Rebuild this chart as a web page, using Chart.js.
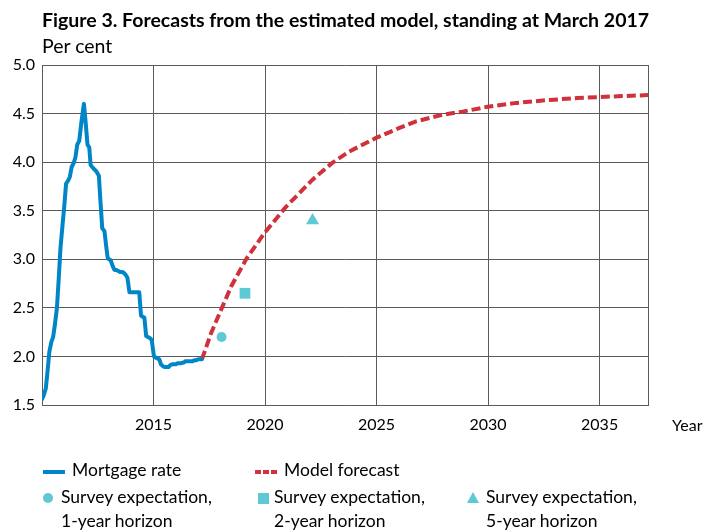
<!DOCTYPE html>
<html><head><meta charset="utf-8">
<script src="https://cdn.jsdelivr.net/npm/chart.js@4"></script>
<style>
body{margin:0;background:#fff;}
#wrap{position:relative;width:704px;height:531px;overflow:hidden;font-family:Lato, sans-serif;color:#000;background:#fff;}
#c{position:absolute;left:0;top:0;}
.t{position:absolute;white-space:nowrap;line-height:24px;font-size:17.5px;}
.mk{position:absolute;}
</style></head><body>
<div id="wrap">
<canvas id="c" width="704" height="531"></canvas>
<div class="t" style="left:42px;top:8px;font-size:19.5px;font-weight:bold;">Figure 3. Forecasts from the estimated model, standing at March 2017</div>
<div class="t" style="left:42px;top:34px;font-size:19.5px;">Per cent</div>
<div class="t" style="left:672px;top:413px;font-size:16px;">Year</div>

<div class="mk" style="left:43px;top:470px;width:22px;height:4px;background:#0086C8;"></div>
<div class="t" style="left:72px;top:458px;">Mortgage rate</div>
<div class="mk" style="left:255px;top:470px;width:6px;height:4px;background:#D0313A;"></div>
<div class="mk" style="left:263px;top:470px;width:6px;height:4px;background:#D0313A;"></div>
<div class="mk" style="left:271px;top:470px;width:6px;height:4px;background:#D0313A;"></div>
<div class="t" style="left:284px;top:458px;">Model forecast</div>

<div class="mk" style="left:43px;top:493px;width:10px;height:10px;border-radius:50%;background:#5EC8D5;"></div>
<div class="t" style="left:61px;top:485px;">Survey expectation,<br>1-year horizon</div>
<div class="mk" style="left:258px;top:493px;width:11px;height:11px;background:#5EC8D5;"></div>
<div class="t" style="left:274px;top:485px;">Survey expectation,<br>2-year horizon</div>
<div class="mk" style="left:467px;top:492px;width:0;height:0;border-left:6.5px solid transparent;border-right:6.5px solid transparent;border-bottom:11px solid #5EC8D5;"></div>
<div class="t" style="left:486px;top:485px;">Survey expectation,<br>5-year horizon</div>
</div>
<script>
// Mortgage rate (per cent), x = year
const mortgageYears = [2010.00,2010.08,2010.17,2010.25,2010.33,2010.42,2010.50,2010.58,2010.67,2010.75,2010.83,2010.92,
  2011.00,2011.08,2011.17,2011.25,2011.33,2011.42,2011.50,2011.58,2011.67,2011.75,2011.83,2011.88,2011.96,
  2012.04,2012.12,2012.18,2012.25,2012.33,2012.42,2012.50,2012.55,2012.62,2012.70,2012.80,2012.87,2012.94,
  2013.00,2013.08,2013.17,2013.25,2013.33,2013.42,2013.50,2013.58,2013.67,2013.75,2013.83,2013.92,
  2014.00,2014.08,2014.17,2014.25,2014.36,2014.44,2014.50,2014.59,2014.67,2014.75,2014.83,2014.92,
  2015.02,2015.08,2015.17,2015.26,2015.33,2015.42,2015.50,2015.58,2015.67,2015.75,2015.86,2015.92,
  2016.00,2016.08,2016.16,2016.25,2016.38,2016.42,2016.50,2016.58,2016.67,2016.75,2016.83,2016.92,
  2017.00,2017.08,2017.17];
const mortgageRate = [1.56,1.60,1.67,1.85,2.05,2.15,2.20,2.33,2.50,2.80,3.12,3.35,
  3.55,3.78,3.81,3.85,3.95,3.99,4.05,4.18,4.22,4.38,4.52,4.60,4.40,
  4.18,4.15,3.97,3.95,3.93,3.91,3.88,3.86,3.60,3.32,3.29,3.15,3.02,
  3.00,2.99,2.93,2.89,2.89,2.88,2.87,2.87,2.86,2.84,2.81,2.66,
  2.66,2.66,2.66,2.66,2.66,2.42,2.41,2.40,2.21,2.20,2.19,2.17,
  2.00,1.99,1.98,1.97,1.92,1.90,1.89,1.89,1.89,1.91,1.92,1.92,
  1.92,1.93,1.93,1.93,1.94,1.95,1.95,1.95,1.95,1.95,1.96,1.96,
  1.97,1.97,1.97];
// Model forecast
const forecastYears = [2017.17,2017.58,2018.03,2018.48,2019.15,2019.97,2020.94,2022.13,2023.00,2023.78,2024.98,
  2026.00,2026.77,2028.00,2028.86,2029.98,2031.26,2032.75,2034.00,2035.00,2036.00,2037.17];
const forecastRate = [1.97,2.24,2.48,2.72,3.00,3.27,3.54,3.82,3.99,4.11,4.25,
  4.35,4.42,4.49,4.52,4.57,4.61,4.64,4.66,4.67,4.68,4.69];
// Survey expectations
const survey1Year = [2018.05], survey1Rate = [2.20];
const survey2Year = [2019.10], survey2Rate = [2.65];
const survey5Year = [2022.13], survey5Rate = [3.40];
// Axes
const xMin = 2010, xMax = 2037.17;
const xTickLabels = [2015, 2020, 2025, 2030, 2035];
const yMin = 1.5, yMax = 5.0, yStep = 0.5;

const BLUE = '#0086C8', RED = '#D0313A', CYAN = '#5EC8D5', GRID = '#5a5a5a';
const pts = (xs, ys) => xs.map((x, i) => ({x, y: ys[i]}));

new Chart(document.getElementById('c').getContext('2d'), {
  type: 'scatter',
  data: { datasets: [
    {label:'Mortgage rate', type:'line', data: pts(mortgageYears, mortgageRate), borderColor: BLUE, borderWidth: 4, pointRadius: 0, fill: false, tension: 0, borderJoinStyle: 'round', borderCapStyle:'round'},
    {label:'Model forecast', type:'line', data: pts(forecastYears, forecastRate), borderColor: RED, borderWidth: 4, borderDash:[9,4], pointRadius: 0, fill: false, tension: 0},
    {label:'Survey expectation, 1-year horizon', data: pts(survey1Year, survey1Rate), pointStyle:'circle', pointRadius: 5, backgroundColor: CYAN, borderWidth: 0},
    {label:'Survey expectation, 2-year horizon', data: pts(survey2Year, survey2Rate), pointStyle:'rect', pointRadius: 7.6, backgroundColor: CYAN, borderWidth: 0},
    {label:'Survey expectation, 5-year horizon', data: pts(survey5Year, survey5Rate), pointStyle:'triangle', pointRadius: 7.5, backgroundColor: CYAN, borderWidth: 0}
  ]},
  options: {
    responsive: false, animation: false, devicePixelRatio: 1,
    layout: {padding: {left: 0, top: 65, right: 56, bottom: 96}},
    plugins: {legend: {display: false}, tooltip: {enabled: false}},
    scales: {
      x: {type:'linear', min: xMin, max: xMax,
        afterBuildTicks: s => { s.ticks = [xMin, ...xTickLabels, xMax].map(v => ({value: v})); },
        ticks: {callback: v => xTickLabels.includes(v) ? String(v) : '', font: {family: 'Lato', size: 16}, color: '#000', padding: 10, maxRotation: 0, autoSkip: false},
        grid: {color: GRID, lineWidth: 1, drawTicks: false},
        border: {color: GRID},
        afterFit: s => { s.height = 30; }
      },
      y: {min: yMin, max: yMax,
        ticks: {stepSize: yStep, callback: v => Number(v).toFixed(1), font: {family: 'Lato', size: 16}, color: '#000', padding: 7},
        grid: {color: GRID, lineWidth: 1, drawTicks: false},
        border: {color: GRID},
        afterFit: s => { s.width = 42; }
      }
    }
  }
});
</script>
</body></html>
